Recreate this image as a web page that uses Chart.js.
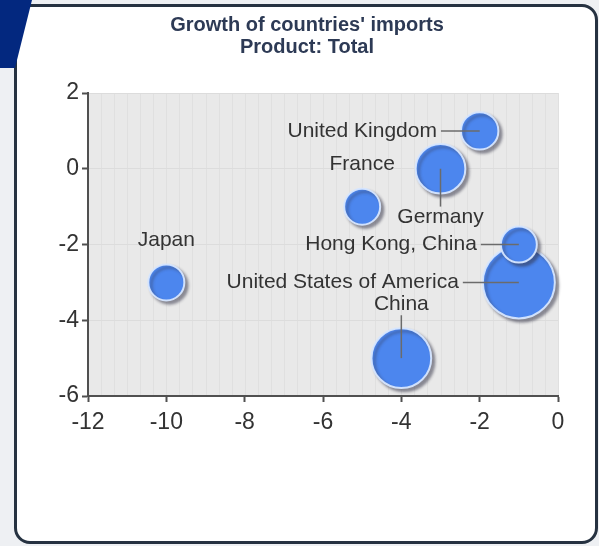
<!DOCTYPE html>
<html>
<head>
<meta charset="utf-8">
<script src="https://cdn.jsdelivr.net/npm/chart.js@4/dist/chart.umd.min.js"></script>
<style>
  body { margin: 0; width: 599px; height: 546px; overflow: hidden; position: relative; background: #eef0f3; }
  #panel { position: absolute; left: 14px; top: 4px; width: 578px; height: 534px; border: 3px solid #263241; border-radius: 16px; background: #fff; }
  #corner { position: absolute; left: 0; top: 0; width: 33px; height: 69px; background: #03287f; clip-path: polygon(0 0, 32px 0, 15px 68px, 0 68px); }
  #chart { position: absolute; left: 0; top: 0; }
</style>
</head>
<body>
<div id="panel"></div>
<div id="corner"></div>
<canvas id="chart" width="599" height="546"></canvas>
<script>
const countries = ['United States of America', 'China', 'Germany', 'Japan', 'United Kingdom', 'France', 'Hong Kong, China'];
const growthX = [-1, -4, -3, -10, -2, -5, -1];
const growthY = [-3, -5, 0, -3, 1, -1, -2];
// relative bubble size, largest = 100
const importSize = [100, 83, 69, 50, 52, 50, 50];

const xTicks = [-12, -10, -8, -6, -4, -2, 0];
const yTicks = [-6, -4, -2, 0, 2];

// where each country name sits around its bubble
const labelSide = ['left', 'above', 'below', 'above', 'left', 'above', 'left'];
const labelLeader = [true, true, true, false, true, false, true];

const maxRadius = 36;
const radii = importSize.map(v => v / 100 * maxRadius);
const fontFamily = '"Liberation Sans", Arial, Helvetica, sans-serif';

const plotBackground = {
  id: 'plotBackground',
  beforeDraw(chart) {
    const {ctx, chartArea: a, scales} = chart;
    ctx.save();
    ctx.fillStyle = '#e9e9e9';
    ctx.fillRect(a.left, a.top, a.right - a.left, a.bottom - a.top);
    ctx.strokeStyle = '#e0e0e0';
    ctx.lineWidth = 1;
    for (let i = xTicks[0] * 3; i <= 0; i++) {
      const px = Math.round(scales.x.getPixelForValue(i / 3)) + 0.5;
      ctx.beginPath();
      ctx.moveTo(px, a.top);
      ctx.lineTo(px, a.bottom);
      ctx.stroke();
    }
    ctx.restore();
  }
};

const bubbleShadow = {
  id: 'bubbleShadow',
  beforeDatasetsDraw(chart) {
    const ctx = chart.ctx;
    ctx.save();
    ctx.shadowColor = 'rgba(50, 50, 70, 0.5)';
    ctx.shadowOffsetX = 3;
    ctx.shadowOffsetY = 3;
    ctx.shadowBlur = 3;
  },
  afterDatasetsDraw(chart) {
    chart.ctx.restore();
  }
};

const pointLabels = {
  id: 'pointLabels',
  afterDatasetsDraw(chart) {
    const ctx = chart.ctx;
    const meta = chart.getDatasetMeta(0);
    const gap = 24;
    ctx.save();
    ctx.font = '21px ' + fontFamily;
    ctx.fillStyle = '#333333';
    ctx.strokeStyle = '#6b6b6b';
    ctx.lineWidth = 1.5;
    meta.data.forEach((pt, i) => {
      const x = pt.x;
      const y = pt.y;
      const r = radii[i];
      let tx = x, ty = y, x0 = x, y0 = y;
      ctx.textBaseline = 'middle';
      if (labelSide[i] === 'left') {
        ctx.textAlign = 'right';
        tx = x - r - gap;
        x0 = tx + 4;
      } else if (labelSide[i] === 'above') {
        ctx.textAlign = 'center';
        ty = y - r - gap;
        y0 = ty + 11;
      } else {
        ctx.textAlign = 'center';
        ty = y + r + gap;
        y0 = ty - 11;
      }
      if (labelLeader[i]) {
        ctx.beginPath();
        ctx.moveTo(x0, y0);
        ctx.lineTo(x, y);
        ctx.stroke();
      }
      ctx.fillText(countries[i], tx, ty);
    });
    ctx.restore();
  }
};

new Chart(document.getElementById('chart').getContext('2d'), {
  type: 'bubble',
  data: {
    datasets: [{
      data: countries.map((c, i) => ({x: growthX[i], y: growthY[i], r: radii[i]})),
      backgroundColor: '#4c86ee',
      borderColor: 'rgba(214, 230, 255, 0.95)',
      borderWidth: 2,
      clip: false,
    }],
  },
  options: {
    responsive: false,
    animation: false,
    events: [],
    layout: {padding: {left: 56, right: 41, top: 0, bottom: 100}},
    plugins: {
      legend: {display: false},
      tooltip: {enabled: false},
      title: {
        display: true,
        text: ['Growth of countries\' imports', 'Product: Total'],
        color: '#2d3a55',
        font: {family: fontFamily, size: 20, weight: 'bold', lineHeight: 1.1},
        padding: {top: 14, bottom: 35},
      },
    },
    scales: {
      x: {
        type: 'linear',
        min: xTicks[0],
        max: xTicks[xTicks.length - 1],
        afterBuildTicks: axis => { axis.ticks = xTicks.map(v => ({value: v})); },
        afterFit: axis => { axis.height = 50; },
        border: {color: '#505050', width: 2},
        grid: {drawOnChartArea: false, drawTicks: true, tickLength: 6, tickColor: '#505050', tickWidth: 2},
        ticks: {color: '#333', padding: 7, font: {family: fontFamily, size: 23}, maxRotation: 0},
      },
      y: {
        type: 'linear',
        min: yTicks[0],
        max: yTicks[yTicks.length - 1],
        afterBuildTicks: axis => { axis.ticks = yTicks.map(v => ({value: v})); },
        afterFit: axis => { axis.width = 32; },
        border: {color: '#505050', width: 2},
        grid: {color: '#dcdcdc', drawTicks: true, tickLength: 6, tickColor: '#505050', tickWidth: 2},
        ticks: {color: '#333', padding: 3, font: {family: fontFamily, size: 23}},
      },
    },
  },
  plugins: [plotBackground, bubbleShadow, pointLabels],
});
</script>
</body>
</html>
